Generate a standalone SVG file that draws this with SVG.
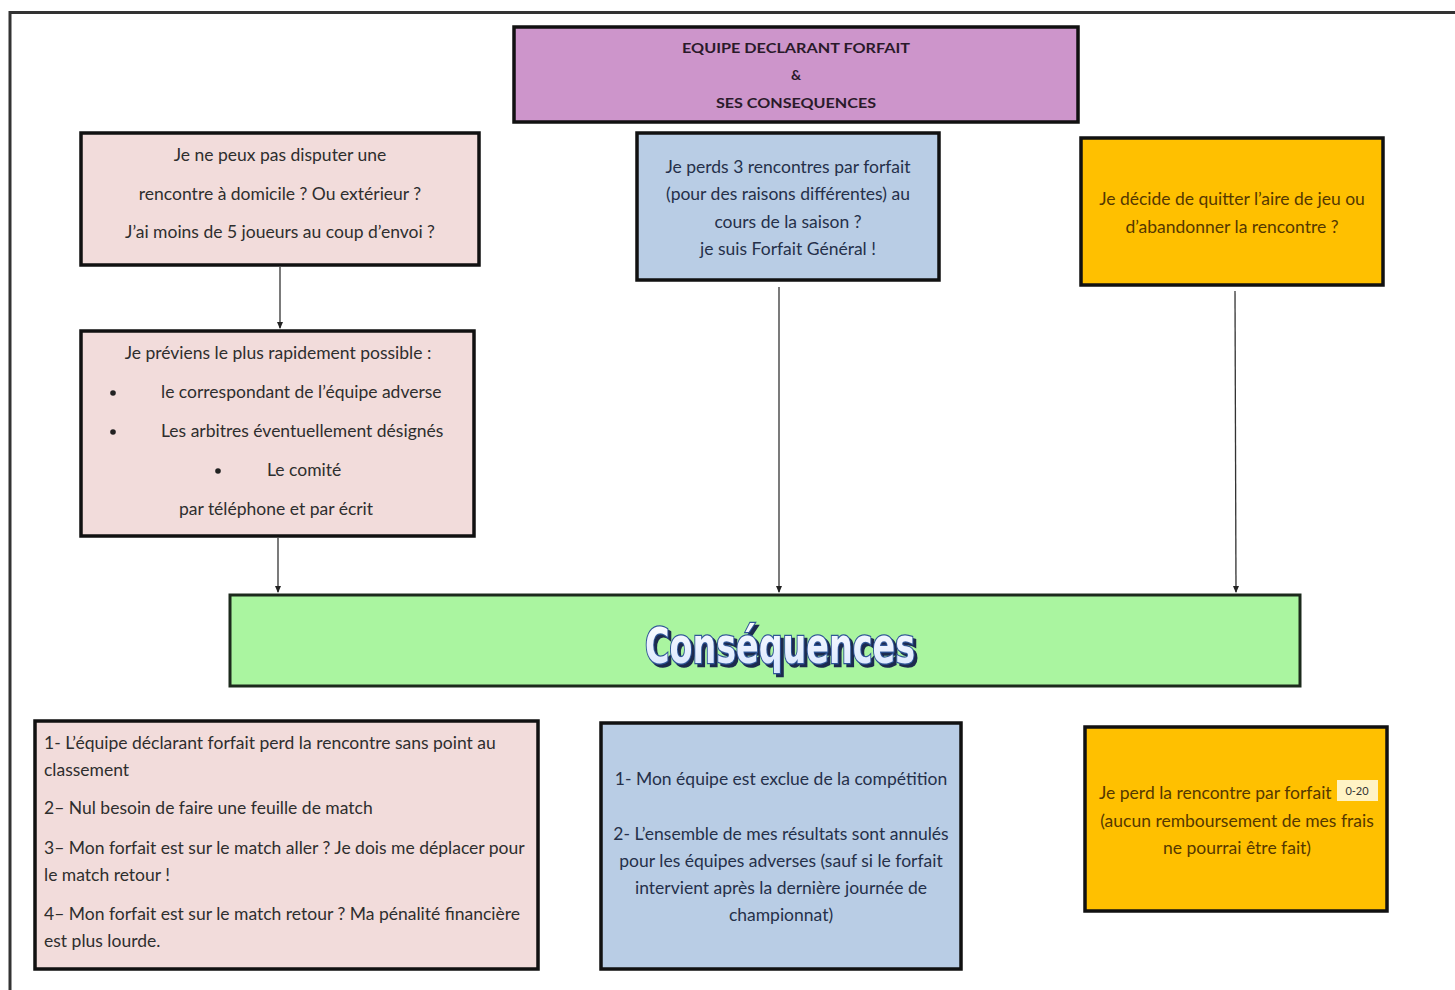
<svg xmlns="http://www.w3.org/2000/svg" width="1455" height="990" viewBox="0 0 1455 990">
<defs>
<style>
.box{stroke:#111;stroke-width:3.5}
.pink{fill:#f2dcdb}
.blue{fill:#b9cde5}
.orange{fill:#ffc000}
.t{font-family:Lato,"Open Sans","Liberation Sans",sans-serif;font-size:17.5px;fill:#2e2e2e}
.c{text-anchor:middle}
.tb{fill:#25304a}
.to{fill:#553800}
.title{font-family:Lato,"Liberation Sans",sans-serif;font-size:14px;font-weight:bold;fill:#2a1a2a;text-anchor:middle}
.conn{stroke:#333;stroke-width:1.3;fill:none;marker-end:url(#ah)}
</style>
<marker id="ah" markerWidth="8" markerHeight="8" refX="6" refY="4" orient="auto" markerUnits="userSpaceOnUse">
<path d="M0,1 L7,4 L0,7 Z" fill="#222"/>
</marker>
<linearGradient id="wg" x1="0" y1="0" x2="0" y2="1">
<stop offset="0" stop-color="#ffffff"/>
<stop offset="1" stop-color="#d6e4ff"/>
</linearGradient>
<filter id="sh" x="-10%" y="-30%" width="120%" height="160%">
<feDropShadow dx="3" dy="3" stdDeviation="0.6" flood-color="#1c2c50" flood-opacity="1"/>
</filter>
</defs>
<rect width="1455" height="990" fill="#ffffff"/>
<path d="M10,990 V12.5 H1455" fill="none" stroke="#333" stroke-width="3"/>

<g id="title">
<rect class="box" x="514" y="27" width="564" height="95" fill="#cd95cb"/>
<text class="title" x="796" y="53" textLength="228" lengthAdjust="spacingAndGlyphs">EQUIPE DECLARANT FORFAIT</text>
<text class="title" x="796" y="80">&amp;</text>
<text class="title" x="796" y="108" textLength="160" lengthAdjust="spacingAndGlyphs">SES CONSEQUENCES</text>
</g>

<g id="box-domicile">
<rect class="box pink" x="81" y="133" width="398" height="132"/>
<text class="t c" x="280" y="161">Je ne peux pas disputer une</text>
<text class="t c" x="280" y="200">rencontre à domicile ? Ou extérieur ?</text>
<text class="t c" x="280" y="238">J’ai moins de 5 joueurs au coup d’envoi ?</text>
</g>

<g id="box-forfait-general">
<rect class="box blue" x="637" y="133" width="302" height="147"/>
<text class="t c tb" x="788" y="173">Je perds 3 rencontres par forfait</text>
<text class="t c tb" x="788" y="200">(pour des raisons différentes) au</text>
<text class="t c tb" x="788" y="228">cours de la saison ?</text>
<text class="t c tb" x="788" y="255">je suis Forfait Général !</text>
</g>

<g id="box-abandon">
<rect class="box orange" x="1081" y="138" width="302" height="147"/>
<text class="t c to" x="1232" y="205">Je décide de quitter l’aire de jeu ou</text>
<text class="t c to" x="1232" y="233">d’abandonner la rencontre ?</text>
</g>

<g id="box-previens">
<rect class="box pink" x="81" y="331" width="393" height="205"/>
<text class="t c" x="278" y="359">Je préviens le plus rapidement possible :</text>
<circle cx="113" cy="393" r="2.8" fill="#222"/>
<text class="t" x="161" y="398">le correspondant de l’équipe adverse</text>
<circle cx="113" cy="432" r="2.8" fill="#222"/>
<text class="t" x="161" y="437">Les arbitres éventuellement désignés</text>
<circle cx="218" cy="471" r="2.8" fill="#222"/>
<text class="t" x="267" y="476">Le comité</text>
<text class="t c" x="276" y="515">par téléphone et par écrit</text>
</g>

<g id="consequences">
<rect x="230" y="595" width="1070" height="91" fill="#aaf5a0" stroke="#1c2a1c" stroke-width="3"/>
<text x="780" y="663" text-anchor="middle" font-family="'DejaVu Sans Condensed','DejaVu Sans',sans-serif" font-weight="bold" font-size="50" textLength="270" lengthAdjust="spacingAndGlyphs" fill="url(#wg)" stroke="#2f5597" stroke-width="2.5" paint-order="stroke" filter="url(#sh)">Conséquences</text>
</g>

<g id="box-csq-1">
<rect class="box pink" x="35" y="721" width="503" height="248"/>
<text class="t" x="44" y="749">1- L’équipe déclarant forfait perd la rencontre sans point au</text>
<text class="t" x="44" y="776">classement</text>
<text class="t" x="44" y="814">2– Nul besoin de faire une feuille de match</text>
<text class="t" x="44" y="854">3– Mon forfait est sur le match aller ? Je dois me déplacer pour</text>
<text class="t" x="44" y="881">le match retour !</text>
<text class="t" x="44" y="920">4– Mon forfait est sur le match retour ? Ma pénalité financière</text>
<text class="t" x="44" y="947">est plus lourde.</text>
</g>

<g id="box-csq-2">
<rect class="box blue" x="601" y="723" width="360" height="246"/>
<text class="t c tb" x="781" y="785">1- Mon équipe est exclue de la compétition</text>
<text class="t c tb" x="781" y="840">2- L’ensemble de mes résultats sont annulés</text>
<text class="t c tb" x="781" y="867">pour les équipes adverses (sauf si le forfait</text>
<text class="t c tb" x="781" y="894">intervient après la dernière journée de</text>
<text class="t c tb" x="781" y="921">championnat)</text>
</g>

<g id="box-csq-3">
<rect class="box orange" x="1085" y="727" width="302" height="184"/>
<rect x="1337" y="780" width="41" height="21" fill="#fff3c4"/>
<text x="1357" y="795" text-anchor="middle" font-family="Lato,'Liberation Sans',sans-serif" font-size="11" fill="#333">0-20</text>
<text class="t to" x="1099" y="799">Je perd la rencontre par forfait</text>
<text class="t c to" x="1237" y="827">(aucun remboursement de mes frais</text>
<text class="t c to" x="1237" y="854">ne pourrai être fait)</text>
</g>

<g id="connectors">
<line class="conn" x1="280" y1="267" x2="280" y2="328"/>
<line class="conn" x1="278" y1="538" x2="278" y2="592"/>
<line class="conn" x1="779" y1="287" x2="779" y2="592"/>
<line class="conn" x1="1235" y1="291" x2="1236" y2="592"/>
</g>
</svg>
